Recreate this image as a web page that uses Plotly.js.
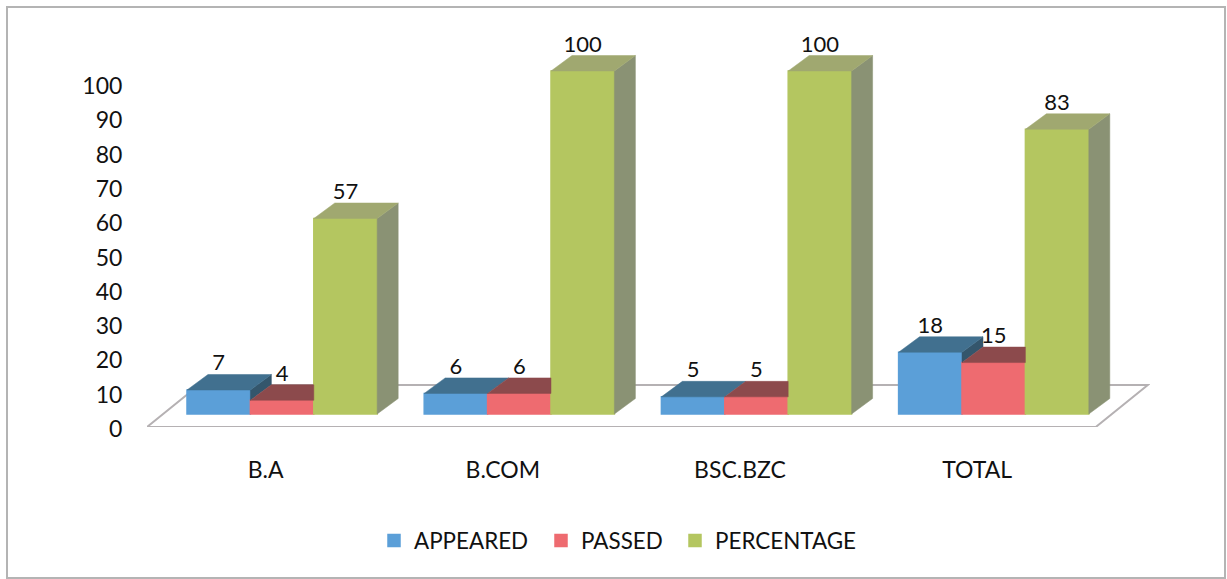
<!DOCTYPE html>
<html>
<head>
<meta charset="utf-8">
<script src="https://cdn.plot.ly/plotly-3.0.1.min.js"></script>
<style>html,body{margin:0;padding:0;background:#fff;overflow:hidden}</style>
</head>
<body>
<div id="chart" style="width:1227px;height:579px"></div>
<script>
const categories = ["B.A", "B.COM", "BSC.BZC", "TOTAL"];
const appeared = [7, 6, 5, 18];
const passed = [4, 6, 5, 15];
const percentage = [57, 100, 100, 83];
const yTicks = [0, 10, 20, 30, 40, 50, 60, 70, 80, 90, 100];

const seriesList = [
  {name: "APPEARED", values: appeared, front: "#5b9fd8", top: "#41708f", side: "#34566c", legend: "legend", legendX: 374},
  {name: "PASSED", values: passed, front: "#ee6b70", top: "#8c4a4c", side: "#6e3f40", legend: "legend2", legendX: 541},
  {name: "PERCENTAGE", values: percentage, front: "#b4c660", top: "#a0a870", side: "#8a9274", legend: "legend3", legendX: 675}
];

// chart geometry, in axis units
const W = 1227, H = 579, mL = 147, mR = 77, mT = 20, mB = 152;
const pxX = 237.2, pxY = 3.43;
const plotW = W - mL - mR, plotH = H - mT - mB;
const barW = 63.4 / pxX, barStart = 40 / pxX;
const depthX = 21 / pxX, depthY = 15.5 / pxY;
const baseY = 13 / pxY;
const floorDX = 52 / pxX, floorDY = 42 / pxY;
const labelLift = 25 / pxY;
const textColor = "#111";

const traces = [];
// bars (front faces)
seriesList.forEach((s, si) => {
  traces.push({
    type: "bar", name: s.name, legend: s.legend,
    x: categories.map((c, i) => i + barStart + barW * (si + 0.5)),
    y: s.values,
    base: s.values.map(() => baseY),
    width: barW,
    marker: {color: s.front, line: {width: 1.5, color: s.front}},
    showlegend: true
  });
});
function face(xs, ys, color) {
  traces.push({
    type: "scatter", mode: "lines", x: xs, y: ys, fill: "toself",
    fillcolor: color, line: {color: color, width: 0.5},
    showlegend: false, hoverinfo: "skip", cliponaxis: false
  });
}
// side and top faces, derived from the values
categories.forEach((c, i) => {
  seriesList.forEach((s, si) => {
    const h = s.values[i];
    const next = si < seriesList.length - 1 ? seriesList[si + 1].values[i] : 0;
    const xl = i + barStart + barW * si, xr = xl + barW;
    const top = baseY + h, low = baseY + next;
    if (next < h) {
      face([xr, xr + depthX, xr + depthX, xr, xr],
           [top, top + depthY, low + depthY, low, top], s.side);
    }
    if (next > h) {
      face([xl, xr, xr, xl + depthX, xl],
           [top, top, top + depthY, top + depthY, top], s.top);
    } else {
      face([xl, xr, xr + depthX, xl + depthX, xl],
           [top, top, top + depthY, top + depthY, top], s.top);
    }
  });
});
// data labels
seriesList.forEach((s, si) => {
  traces.push({
    type: "scatter", mode: "text",
    x: categories.map((c, i) => i + barStart + barW * (si + 0.5)),
    y: s.values.map(v => baseY + v + labelLift),
    text: s.values.map(String),
    textposition: "middle center",
    textfont: {family: "Lato", size: 22, color: textColor},
    showlegend: false, hoverinfo: "skip", cliponaxis: false
  });
});

const n = categories.length;
const layout = {
  width: W, height: H,
  margin: {l: mL, r: mR, t: mT, b: mB, pad: 0},
  paper_bgcolor: "#fff", plot_bgcolor: "rgba(0,0,0,0)",
  font: {family: "Lato", size: 22, color: textColor},
  barmode: "overlay",
  hovermode: false,
  xaxis: {
    range: [0, plotW / pxX],
    tickmode: "array",
    tickvals: categories.map((c, i) => i + 0.5),
    ticktext: categories,
    showgrid: false, zeroline: false, showline: false,
    ticks: "outside", ticklen: 22, tickcolor: "rgba(0,0,0,0)",
    tickfont: {family: "Lato", size: 23, color: textColor}
  },
  yaxis: {
    range: [0, plotH / pxY],
    tickmode: "array",
    tickvals: yTicks,
    showgrid: false, zeroline: false, showline: false,
    ticks: "outside", ticklen: 19, tickcolor: "rgba(0,0,0,0)",
    ticklabelshift: 2,
    tickfont: {family: "Lato", size: 23, color: textColor}
  },
  shapes: [
    {type: "path", layer: "below", xref: "x", yref: "y",
     path: `M 0 0 L ${n} 0 L ${n + floorDX} ${floorDY} L ${floorDX} ${floorDY} Z`,
     line: {color: "#b5b1b3", width: 2}, fillcolor: "rgba(0,0,0,0)"},
    {type: "rect", layer: "below", xref: "paper", yref: "paper",
     x0: (7 - mL) / plotW, x1: (1225 - mL) / plotW,
     y0: (H - mB - 578) / plotH, y1: (H - mB - 7) / plotH,
     line: {color: "#b4b4b4", width: 2}, fillcolor: "rgba(0,0,0,0)"}
  ]
};
seriesList.forEach(s => {
  layout[s.legend] = {
    orientation: "h", xref: "paper", yref: "paper",
    x: (s.legendX - mL) / plotW, xanchor: "left",
    y: (H - mB - 541) / plotH, yanchor: "middle",
    font: {family: "Lato", size: 22.4, color: textColor},
    bgcolor: "rgba(0,0,0,0)", itemclick: false, itemdoubleclick: false
  };
});
Plotly.newPlot("chart", traces, layout, {displayModeBar: false, staticPlot: true});
</script>
</body>
</html>
